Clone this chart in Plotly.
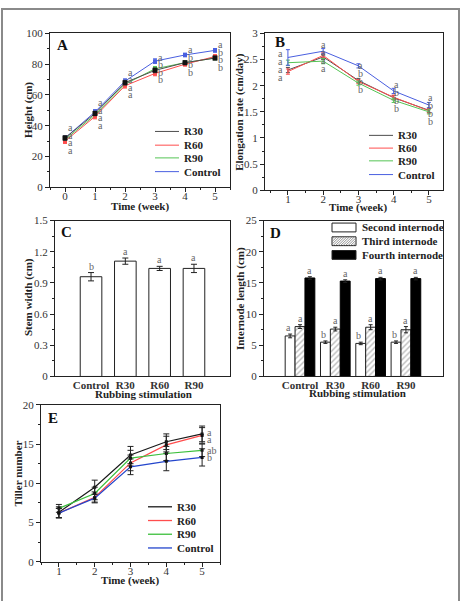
import plotly.graph_objects as go

W, H = 461, 601
FONT = "Liberation Serif"

# ---------------- data ----------------
series_names = ["R30", "R60", "R90", "Control"]

# Panel A: plant height (cm)
weeks_a = [0, 1, 2, 3, 4, 5]
height_r30 = [32, 48, 68, 76, 81, 84]
height_r60 = [30, 46, 66, 74, 80, 85]
height_r90 = [31, 47, 67, 77, 81, 84]
height_ctrl = [32, 49, 69, 82, 86, 89]
height_err = [1.5, 1.5, 1.5, 1.5, 1.2, 1.2]
letters_a = [["a", "a", "a", "a"], ["a", "a", "a", "a"], ["a", "a", "a", "a"],
             ["a", "b", "b", "b"], ["a", "b", "b", "b"], ["a", "b", "b", "b"]]

# Panel B: elongation rate (cm/day)
weeks_b = [1, 2, 3, 4, 5]
elong_r30 = [2.30, 2.55, 2.10, 1.77, 1.53]
elong_r60 = [2.27, 2.58, 2.08, 1.78, 1.52]
elong_r90 = [2.44, 2.47, 2.05, 1.72, 1.50]
elong_ctrl = [2.54, 2.66, 2.38, 1.90, 1.63]
elong_err_ctrl = [0.15, 0.05, 0.04, 0.05, 0.05]
elong_err = [0.05, 0.05, 0.04, 0.04, 0.04]
letters_b = [["a", "a", "a", "a"], ["a", "a", "a", "a"], ["a", "b", "b", "b"],
             ["a", "b", "b", "b"], ["a", "b", "b", "b"]]

# Panel C: stem width (cm)
treatments = ["Control", "R30", "R60", "R90"]
stem_width = [0.96, 1.11, 1.04, 1.04]
stem_width_err = [0.04, 0.03, 0.02, 0.04]
stem_letters = ["b", "a", "a", "a"]

# Panel D: internode length (cm)
internode_names = ["Second internode", "Third internode", "Fourth internode"]
second_len = [6.5, 5.5, 5.3, 5.5]
third_len = [8.0, 7.6, 7.9, 7.5]
fourth_len = [15.8, 15.3, 15.7, 15.7]
second_err = [0.3, 0.2, 0.2, 0.2]
third_err = [0.3, 0.3, 0.4, 0.5]
fourth_err = [0.2, 0.2, 0.2, 0.2]
second_letters = ["a", "b", "b", "b"]
third_letters = ["a", "a", "a", "a"]
fourth_letters = ["a", "a", "a", "a"]

# Panel E: tiller number
weeks_e = [1, 2, 3, 4, 5]
tiller_r30 = [6.3, 9.5, 13.6, 15.3, 16.3]
tiller_r60 = [6.2, 8.2, 12.6, 14.9, 16.1]
tiller_r90 = [6.8, 8.7, 13.2, 13.8, 14.2]
tiller_ctrl = [6.2, 8.1, 12.1, 12.8, 13.3]
tiller_err_r30 = [0.7, 0.9, 1.1, 1.0, 1.0]
tiller_err_r60 = [0.6, 0.7, 1.0, 1.1, 1.0]
tiller_err_r90 = [0.5, 0.8, 1.0, 0.9, 0.8]
tiller_err_ctrl = [0.6, 0.5, 1.0, 1.2, 1.1]
tiller_letters = ["a", "a", "ab", "b"]

# ---------------- styles ----------------
colors_ab = ["#4d4d4d", "#ff4d4d", "#55c455", "#4a5fe0"]
colors_e = ["#1a1a1a", "#ff4d4d", "#3cbf3c", "#2446cc"]
LETTER_COLOR = "#666666"
LETTER_SIZE = 10


def fx(px):
    return px / W


def fy(py):
    return 1 - py / H


fig = go.Figure()
annotations = []
shapes = []

# ---------- Panel A ----------
height_series = [height_r30, height_r60, height_r90, height_ctrl]
# draw Control first so the R30 squares stay on top
for idx in [3, 2, 1, 0]:
    name, vals, col = series_names[idx], height_series[idx], colors_ab[idx]
    fig.add_trace(go.Scatter(
        x=weeks_a, y=vals, mode="lines+markers", name=name, showlegend=False,
        line=dict(color=col, width=1),
        marker=dict(symbol="square", size=5 if name == "R30" else 4,
                    color="#111111" if name == "R30" else col),
        error_y=dict(type="data", array=height_err, color=col, thickness=1, width=2),
        xaxis="x", yaxis="y"))

for i, wk in enumerate(weeks_a):
    vals = [s[i] for s in height_series]
    mean = sum(vals) / 4
    for j, let in enumerate(letters_a[i]):
        annotations.append(dict(x=wk, y=mean, xref="x", yref="y", text=let,
                                showarrow=False, xanchor="center", yanchor="middle",
                                xshift=5, yshift=(1.5 - j) * 7.5,
                                font=dict(family=FONT, size=LETTER_SIZE, color=LETTER_COLOR)))

# ---------- Panel B ----------
elong_series = [elong_r30, elong_r60, elong_r90, elong_ctrl]
for name, vals, col in zip(series_names, elong_series, colors_ab):
    err = elong_err_ctrl if name == "Control" else elong_err
    fig.add_trace(go.Scatter(
        x=weeks_b, y=vals, mode="lines", name=name, showlegend=False,
        line=dict(color=col, width=1),
        error_y=dict(type="data", array=err, color=col, thickness=1, width=2),
        xaxis="x2", yaxis="y2"))

b_xshift = [-7, 0, 2, 3, 2]
for i, wk in enumerate(weeks_b):
    vals = [s[i] for s in elong_series]
    mean = sum(vals) / 4
    for j, let in enumerate(letters_b[i]):
        annotations.append(dict(x=wk, y=mean, xref="x2", yref="y2", text=let,
                                showarrow=False, xanchor="center", yanchor="middle",
                                xshift=b_xshift[i], yshift=(1.5 - j) * 8,
                                font=dict(family=FONT, size=LETTER_SIZE, color=LETTER_COLOR)))

# ---------- Panel C ----------
cat_pos = list(range(len(treatments)))
fig.add_trace(go.Bar(
    x=cat_pos, y=stem_width, width=0.63, showlegend=False,
    marker=dict(color="white", line=dict(color="#222222", width=1)),
    error_y=dict(type="data", array=stem_width_err, color="#222222", thickness=1, width=3),
    xaxis="x3", yaxis="y3"))
for p, v, e, let in zip(cat_pos, stem_width, stem_width_err, stem_letters):
    annotations.append(dict(x=p, y=v + e, xref="x3", yref="y3", text=let,
                            showarrow=False, xanchor="center", yanchor="bottom", yshift=-1,
                            font=dict(family=FONT, size=LETTER_SIZE, color=LETTER_COLOR)))

# ---------- Panel D ----------
bw = 0.28
d_offsets = [-0.42, -0.14, 0.14]
d_vals = [second_len, third_len, fourth_len]
d_errs = [second_err, third_err, fourth_err]
d_letters = [second_letters, third_letters, fourth_letters]
d_markers = [
    dict(color="white", line=dict(color="#222222", width=1)),
    dict(color="white", line=dict(color="#222222", width=1),
         pattern=dict(shape="/", fgcolor="#777777", bgcolor="white", size=4, solidity=0.35)),
    dict(color="#000000", line=dict(color="#000000", width=1)),
]
for k in range(3):
    fig.add_trace(go.Bar(
        x=cat_pos, y=d_vals[k], width=bw, offset=d_offsets[k], name=internode_names[k],
        showlegend=False, marker=d_markers[k],
        error_y=dict(type="data", array=d_errs[k], color="#222222", thickness=1, width=2),
        xaxis="x4", yaxis="y4"))
    for p, v, e, let in zip(cat_pos, d_vals[k], d_errs[k], d_letters[k]):
        annotations.append(dict(x=p + d_offsets[k] + bw / 2, y=v + e, xref="x4", yref="y4",
                                text=let, showarrow=False, xanchor="center", yanchor="bottom",
                                xshift=-2 if k == 0 else 0, yshift=-1,
                                font=dict(family=FONT, size=LETTER_SIZE, color=LETTER_COLOR)))

# ---------- Panel E ----------
tiller_series = [tiller_r30, tiller_r60, tiller_r90, tiller_ctrl]
tiller_errs = [tiller_err_r30, tiller_err_r60, tiller_err_r90, tiller_err_ctrl]
for name, vals, err, col in zip(series_names, tiller_series, tiller_errs, colors_e):
    fig.add_trace(go.Scatter(
        x=weeks_e, y=vals, mode="lines+markers", name=name, showlegend=False,
        line=dict(color=col, width=1.2),
        marker=dict(symbol="square", size=3, color="#111111"),
        error_y=dict(type="data", array=err, color="#222222", thickness=1, width=3),
        xaxis="x5", yaxis="y5"))
e_yshift = [1, -4, 0, 0]
for vals, let, ys in zip(tiller_series, tiller_letters, e_yshift):
    annotations.append(dict(x=weeks_e[-1], y=vals[-1], xref="x5", yref="y5", text=let,
                            showarrow=False, xanchor="left", yanchor="middle", xshift=3, yshift=ys,
                            font=dict(family=FONT, size=LETTER_SIZE, color=LETTER_COLOR)))

# ---------------- manual legends ----------------
def line_legend(x0, ys, colors, width=1.0):
    for name, y, col in zip(series_names, ys, colors):
        shapes.append(dict(type="line", xref="paper", yref="paper",
                           x0=fx(x0), x1=fx(x0 + 24), y0=fy(y), y1=fy(y),
                           line=dict(color=col, width=width)))
        annotations.append(dict(x=fx(x0 + 27), y=fy(y), xref="paper", yref="paper",
                                text=name, showarrow=False, xanchor="left", yanchor="middle",
                                font=dict(family=FONT, size=11, color="#222222", weight="bold")))


line_legend(155, [128, 142, 155, 169], colors_ab)
line_legend(369, [132, 145, 158, 172], colors_ab)
line_legend(148, [511, 525, 539, 553], colors_e, width=1.3)

d_leg_y = [226, 240, 254]
bx0, bx1 = 332, 356
for k, (name, y) in enumerate(zip(internode_names, d_leg_y)):
    fill = "#000000" if k == 2 else "white"
    shapes.append(dict(type="rect", xref="paper", yref="paper",
                       x0=fx(bx0), x1=fx(bx1), y0=fy(y + 4.5), y1=fy(y - 4.5),
                       fillcolor=fill, line=dict(color="#222222", width=1)))
    if k == 1:
        segs = []
        top, bot = y - 4.5, y + 4.5
        h = bot - top
        xs = bx0 - h
        while xs < bx1:
            xa, ya = xs, bot
            xb, yb = xs + h, top
            if xa < bx0:
                ya = bot - (bx0 - xa)
                xa = bx0
            if xb > bx1:
                yb = top + (xb - bx1)
                xb = bx1
            if xb > xa:
                segs.append(f"M{fx(xa):.5f},{fy(ya):.5f} L{fx(xb):.5f},{fy(yb):.5f}")
            xs += 2.5
        shapes.append(dict(type="path", xref="paper", yref="paper", path=" ".join(segs),
                           line=dict(color="#777777", width=0.8)))
    annotations.append(dict(x=fx(bx1 + 4), y=fy(y), xref="paper", yref="paper",
                            text=name, showarrow=False, xanchor="left", yanchor="middle",
                            font=dict(family=FONT, size=11, color="#222222", weight="bold")))

# ---------------- panel letters & axis titles ----------------
for lab, (px, py) in zip("ABCDE", [(62, 40), (280, 37), (66, 231), (275, 232), (53, 420)]):
    annotations.append(dict(x=fx(px), y=fy(py), xref="paper", yref="paper", text=lab,
                            showarrow=False, xanchor="center", yanchor="middle",
                            font=dict(family=FONT, size=15, color="#111111", weight="bold")))

titles = [
    ("Height (cm)", 29, 106, -90),
    ("Time (week)", 140, 205, 0),
    ("Elongation rate (cm/day)", 240, 108, -90),
    ("Time (week)", 358, 206, 0),
    ("Stem width (cm)", 28, 297, -90),
    ("Rubbing stimulation", 143, 396, 0),
    ("Internode length (cm)", 240, 298, -90),
    ("Rubbing stimulation", 357, 395, 0),
    ("Tiller number", 18, 477, -90),
    ("Time (week)", 130, 586, 0),
]
for txt, px, py, ang in titles:
    annotations.append(dict(x=fx(px), y=fy(py), xref="paper", yref="paper", text=txt,
                            showarrow=False, textangle=ang, xanchor="center", yanchor="middle",
                            font=dict(family=FONT, size=11, color="#222222", weight="bold")))

shapes.append(dict(type="rect", xref="paper", yref="paper", x0=fx(2), x1=fx(459),
                   y0=fy(3), y1=-0.05, line=dict(color="#8a8a8a", width=2), layer="below"))

# ---------------- axes ----------------
def axis(domain, rng, anchor, dtick=None, minor=None, tickvals=None, ticktext=None,
         bold=False, ticks="outside", standoff=0):
    d = dict(domain=domain, range=rng, anchor=anchor, showline=True, linecolor="#222222",
             linewidth=1.2, mirror=True, ticks=ticks, ticklen=4, tickwidth=1,
             tickcolor="#222222", showgrid=False, zeroline=False, fixedrange=True,
             ticklabelstandoff=standoff,
             tickfont=dict(family=FONT, size=11, color="#333333",
                           weight="bold" if bold else "normal"))
    if dtick is not None:
        d["dtick"] = dtick
        d["tick0"] = 0
    if minor is not None:
        d["minor"] = dict(ticks="outside", ticklen=2, tickcolor="#222222", dtick=minor, tick0=0)
    if tickvals is not None:
        d["tickvals"] = tickvals
        d["ticktext"] = ticktext
    return d


fig.update_layout(
    width=W, height=H, margin=dict(l=0, r=0, t=0, b=0),
    paper_bgcolor="white", plot_bgcolor="white", showlegend=False,
    barmode="overlay",
    xaxis=axis([fx(50), fx(230)], [-0.5, 5.5], "y", dtick=1, minor=0.5, standoff=-6),
    yaxis=axis([fy(185), fy(28)], [0, 100], "x", dtick=20, minor=10),
    xaxis2=axis([fx(265), fx(443)], [0.35, 5.4], "y2", dtick=1, minor=0.5, standoff=-6),
    yaxis2=axis([fy(188), fy(28)], [0, 3], "x2", dtick=0.5, minor=0.25),
    xaxis3=axis([fx(55), fx(230)], [-1.05, 4.05], "y3", tickvals=cat_pos,
                ticktext=treatments, bold=True, ticks="", standoff=-2),
    yaxis3=axis([fy(378), fy(219)], [0, 1.5], "x3", dtick=0.3, minor=0.15),
    xaxis4=axis([fx(264), fx(443)], [-1.02, 4.05], "y4", tickvals=cat_pos,
                ticktext=treatments, bold=True, ticks="", standoff=-2),
    yaxis4=axis([fy(378), fy(219)], [0, 25], "x4", dtick=5, minor=2.5),
    xaxis5=axis([fx(41), fx(220)], [0.5, 5.5], "y5", dtick=1, minor=0.5, standoff=-5),
    yaxis5=axis([fy(567), fy(407)], [0, 20], "x5", dtick=5, minor=2.5),
    annotations=annotations, shapes=shapes,
)

fig.write_html("out.html")
